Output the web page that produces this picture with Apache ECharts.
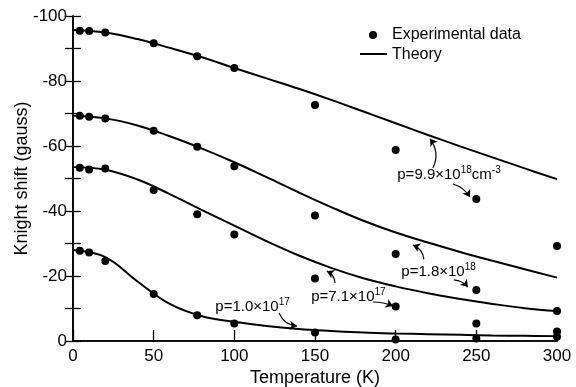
<!DOCTYPE html>
<html>
<head>
<meta charset="utf-8">
<script src="https://cdn.jsdelivr.net/npm/echarts@6/dist/echarts.min.js"></script>
<style>
  html, body { margin: 0; padding: 0; background: #fff; }
  #chart { width: 576px; height: 387px; }
</style>
</head>
<body>
<div id="chart"></div>
<script>
const FONT = '"Liberation Sans", Arial, sans-serif';

// Measured temperatures (K)
const expTemps = [4.2, 10, 20, 50, 77, 100, 150, 200, 250, 300];
// Experimental Knight shift (gauss), one array per carrier density
const exp99e18 = [-95.5, -95.4, -94.9, -91.6, -87.6, -84.0, -72.6, -58.8, -43.7, -29.2];
const exp18e18 = [-69.3, -69.0, -68.5, -64.7, -59.8, -53.8, -38.6, -26.8, -15.7, -9.2];
const exp71e17 = [-53.3, -52.8, -53.1, -46.5, -39.0, -32.8, -19.2, -10.6, -5.4, -2.9];
const exp10e17 = [-27.8, -27.2, -24.6, -14.5, -7.9, -5.4, -2.6, -0.5, -0.8, -1.3];

// Theory curves, every 20 K
const theoryTemps = [0, 20, 40, 60, 80, 100, 120, 140, 160, 180, 200, 220, 240, 260, 280, 300];
const theory99e18 = [-95.7, -94.9, -92.9, -90.2, -87.3, -84.0, -80.8, -77.6, -74.2, -70.6, -67.0, -63.4, -59.9, -56.5, -53.1, -49.8];
const theory18e18 = [-69.3, -68.5, -66.3, -63.0, -59.2, -55.0, -50.4, -45.7, -41.2, -37.0, -33.4, -30.3, -27.4, -24.7, -22.1, -19.5];
const theory71e17 = [-53.5, -52.7, -49.7, -45.2, -40.3, -35.5, -30.7, -26.3, -22.5, -19.3, -16.8, -14.7, -12.9, -11.4, -10.1, -9.2];
const theory10e17 = [-28.0, -25.8, -18.3, -11.4, -7.6, -5.9, -4.6, -3.7, -3.1, -2.6, -2.3, -2.1, -1.9, -1.7, -1.6, -1.5];

// Annotation labels: text anchor (left, middle) in data coords
const labels = [
  { text: 'p=9.9×10{s|18}cm{s|-3}', at: [201.0, -51.1] },
  { text: 'p=1.8×10{s|18}', at: [203.5, -21.2] },
  { text: 'p=7.1×10{s|17}', at: [147.6, -13.5] },
  { text: 'p=1.0×10{s|17}', at: [88.2, -10.5] }
];
// Arrows from label to curve / point, data coords, curveness
const arrows = [
  [[223.1, -53.2], [221.3, -62.2], -0.3],
  [[235.5, -48.3], [246.0, -44.3], 0.2],
  [[217.5, -25.2], [210.7, -29.5], -0.3],
  [[236.1, -18.8], [244.8, -16.6], 0.2],
  [[162.4, -17.8], [157.4, -21.5], -0.3],
  [[185.9, -12.0], [198.3, -10.8], 0.1],
  [[127.7, -8.6], [138.8, -4.6], -0.3]
];

const zip = (xs, ys) => xs.map((x, i) => [x, ys[i]]);

const expSets = [exp99e18, exp18e18, exp71e17, exp10e17];
const theorySets = [theory99e18, theory18e18, theory71e17, theory10e17];

const axisLine = { show: true, lineStyle: { color: '#000', width: 1.6 } };
const tickStyle = { color: '#000', width: 1.3 };

const chart = echarts.init(document.getElementById('chart'));

const series = [];
theorySets.forEach(ys => {
  series.push({
    name: 'Theory',
    type: 'line',
    data: zip(theoryTemps, ys),
    smooth: 0.4,
    symbol: 'none',
    lineStyle: { color: '#000', width: 2 },
    silent: true,
    z: 3
  });
});
expSets.forEach(ys => {
  series.push({
    name: 'Experimental data',
    type: 'scatter',
    data: zip(expTemps, ys),
    symbol: 'circle',
    symbolSize: 8,
    itemStyle: { color: '#000', opacity: 1 },
    silent: true,
    z: 4
  });
});
series.push({
  type: 'lines',
  coordinateSystem: 'cartesian2d',
  symbol: ['none', 'arrow'],
  symbolSize: [1, 7],
  silent: true,
  z: 5,
  lineStyle: { color: '#000', width: 1.2, opacity: 1 },
  data: arrows.map(a => ({ coords: [a[0], a[1]], lineStyle: { curveness: a[2] } }))
});

chart.setOption({
  animation: false,
  backgroundColor: '#fff',
  textStyle: { fontFamily: FONT, color: '#000' },
  grid: { left: 73, right: 19, top: 16, bottom: 46, containLabel: false, outerBoundsMode: 'none' },
  xAxis: [
    {
      type: 'value',
      min: 0, max: 300, interval: 50,
      name: 'Temperature (K)',
      nameLocation: 'middle',
      nameGap: 28,
      nameMoveOverlap: false,
      nameTextStyle: { fontFamily: FONT, fontSize: 18, color: '#000' },
      axisLine: axisLine,
      axisTick: { show: true, inside: true, length: 11, lineStyle: tickStyle },
      axisLabel: { fontFamily: FONT, fontSize: 17, color: '#000', margin: 7 },
      splitLine: { show: false }
    },
    {
      type: 'value', position: 'top',
      min: 0, max: 300, interval: 50,
      axisLine: axisLine,
      axisTick: { show: false },
      axisLabel: { show: false },
      splitLine: { show: false }
    }
  ],
  yAxis: [
    {
      type: 'value',
      min: -100, max: 0, interval: 10,
      inverse: true,
      name: 'Knight shift (gauss)',
      nameLocation: 'middle',
      nameRotate: 90,
      nameGap: 42,
      nameMoveOverlap: false,
      nameTextStyle: { fontFamily: FONT, fontSize: 18, color: '#000' },
      axisLine: axisLine,
      axisTick: { show: true, inside: true, length: 8, lineStyle: tickStyle },
      axisLabel: {
        fontFamily: FONT, fontSize: 17, color: '#000', margin: 6,
        formatter: v => (v % 20 === 0 ? String(v) : '')
      },
      splitLine: { show: false }
    },
    {
      type: 'value', position: 'right',
      min: -100, max: 0, interval: 10,
      inverse: true,
      axisLine: axisLine,
      axisTick: { show: true, inside: true, length: 8, lineStyle: tickStyle },
      axisLabel: { show: false },
      splitLine: { show: false }
    }
  ],
  series: series
});

// key, drawn by hand so the Theory entry is a plain line
const legendText = { fill: '#000', font: '16px ' + FONT, verticalAlign: 'middle', align: 'left' };
const graphic = [
  { type: 'circle', shape: { cx: 373, cy: 35, r: 4 }, style: { fill: '#000' }, silent: true },
  { type: 'text', x: 392, y: 35, style: Object.assign({ text: 'Experimental data' }, legendText), silent: true },
  { type: 'line', shape: { x1: 360, y1: 54, x2: 387, y2: 54 }, style: { stroke: '#000', lineWidth: 2 }, silent: true },
  { type: 'text', x: 392, y: 55, style: Object.assign({ text: 'Theory' }, legendText), silent: true }
];

// density labels, placed from data coordinates
labels.forEach(l => {
  const p = chart.convertToPixel({ xAxisIndex: 0, yAxisIndex: 0 }, l.at);
  graphic.push({
    type: 'text',
    x: p[0], y: p[1],
    silent: true,
    z: 10,
    style: {
      text: l.text,
      fill: '#000',
      font: '15px ' + FONT,
      verticalAlign: 'middle',
      align: 'left',
      lineHeight: 20,
      rich: {
        s: { fontSize: 10, fontFamily: FONT, verticalAlign: 'top', lineHeight: 20, fill: '#000' }
      }
    }
  });
});
chart.setOption({ graphic: graphic });
</script>
</body>
</html>
